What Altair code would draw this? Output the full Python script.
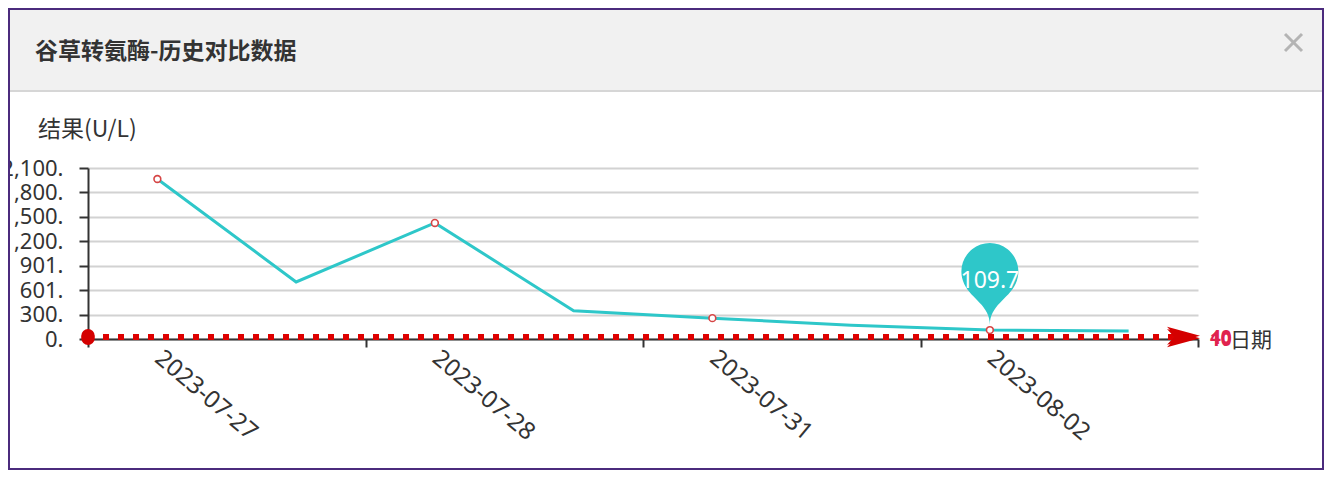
import altair as alt
import pandas as pd

# ---------------- data ----------------
dates = ["2023-07-27", "2023-07-27", "2023-07-28", "2023-07-29",
         "2023-07-31", "2023-08-01", "2023-08-02", "2023-08-03"]
results = [1965, 700, 1425, 348, 256, 168, 109.7, 98]
y_ticks = [0, 300, 601, 901, 1200, 1500, 1800, 2100]
y_tick_labels = ["0.", "300.", "601.", "901.", "1,200.", "1,500.", "1,800.", "2,100."]
ref_values = [40, 10]
ref_labels = ["40", "10"]
pin_index = 6
label_step = 2
title_text = "谷草转氨酶-历史对比数据"
y_name = "结果(U/L)"
x_name = "日期"

# ---------------- layout / style ----------------
W, H = 1110, 171
n = len(dates)
band = W / n
TEAL = "#2ec7c9"
RED = "#dd0000"
CJK = "Noto Sans CJK SC"
NUM = "Noto Sans"

df = pd.DataFrame({"idx": list(range(n)), "date": dates, "result": results})
df["pos"] = df["idx"] + 0.5
df["symbol"] = (df["idx"] % label_step) == 0
df_ref = pd.DataFrame({"value": ref_values, "label": ref_labels})
df_pin = df[df["idx"] == pin_index]
one = pd.DataFrame({"k": [0]})

xs = alt.Scale(domain=[0, n], nice=False, zero=False)
ys = alt.Scale(domain=[y_ticks[0], y_ticks[-1]], nice=False, zero=False)

tick_vals = list(range(0, n + 1, label_step))
x_expr = "".join(f"datum.value == {v} ? '{dates[v]}' : " for v in tick_vals if v < n) + "''"
y_expr = "".join(f"datum.value == {v} ? '{l}' : " for v, l in zip(y_ticks, y_tick_labels)) + "''"

x_axis = alt.Axis(values=tick_vals, labelExpr=x_expr, labelOffset=band / 2,
                  labelAngle=40, labelAlign="left", labelBaseline="middle",
                  labelPadding=8, labelFontSize=24, labelFont=NUM, labelColor="#333",
                  labelOverlap=False, labelFlush=False,
                  domainColor="#333", domainWidth=2, tickColor="#333", tickWidth=2,
                  tickSize=8, grid=False, title=None)
y_axis = alt.Axis(values=y_ticks, labelExpr=y_expr, labelPadding=16,
                  labelFontSize=22, labelFont=NUM, labelColor="#333",
                  labelOverlap=False, labelFlush=False,
                  domainColor="#333", domainWidth=2, tickColor="#333", tickWidth=2,
                  tickSize=9, grid=True, gridColor="#d2d2d2", gridWidth=2, title=None)


def X(field):
    return alt.X(field, scale=xs, axis=x_axis)


def Y(field):
    return alt.Y(field, scale=ys, axis=y_axis)


def XD(v):
    return alt.XDatum(v, type="quantitative", scale=xs, axis=x_axis)


def YD(v):
    return alt.YDatum(v, type="quantitative", scale=ys, axis=y_axis)


# ---------------- dialog frame ----------------
header = alt.Chart(one).mark_rect(fill="#f1f1f1").encode(
    x=alt.value(-78), x2=alt.value(1234), y=alt.value(-158), y2=alt.value(-78))
sep = alt.Chart(one).mark_rule(color="#d6d6d6", strokeWidth=2).encode(
    x=alt.value(-78), x2=alt.value(1234), y=alt.value(-77))
close1 = alt.Chart(one).mark_rule(color="#b4b4b4", strokeWidth=3).encode(
    x=alt.value(1197), y=alt.value(-134), x2=alt.value(1214), y2=alt.value(-117))
close2 = alt.Chart(one).mark_rule(color="#b4b4b4", strokeWidth=3).encode(
    x=alt.value(1214), y=alt.value(-134), x2=alt.value(1197), y2=alt.value(-117))
title = alt.Chart(one).mark_text(font=CJK, fontSize=23, fontWeight="bold", color="#333",
                                 align="left", baseline="middle").encode(
    x=alt.value(-53), y=alt.value(-116), text=alt.value(title_text))
yname = alt.Chart(one).mark_text(font=CJK, fontSize=23, color="#333",
                                 align="left", baseline="middle").encode(
    x=alt.value(-50), y=alt.value(-38), text=alt.value(y_name))
border = alt.Chart(one).mark_rect(fillOpacity=0, stroke="#4b2b7d", strokeWidth=2).encode(
    x=alt.value(-79), x2=alt.value(1235), y=alt.value(-159), y2=alt.value(301))

# ---------------- data layers ----------------
line = alt.Chart(df).mark_line(color=TEAL, strokeWidth=3).encode(
    x=X("pos:Q"), y=Y("result:Q"))
points = alt.Chart(df).transform_filter("datum.symbol").mark_point(
    shape="circle", filled=True, fill="white", stroke="#d64545", strokeWidth=1.6,
    size=46, opacity=1).encode(x=X("pos:Q"), y=Y("result:Q"))

ref_rule = alt.Chart(df_ref).mark_rule(color=RED, strokeWidth=3.5, strokeDash=[6, 9]).encode(
    x=XD(0), x2=alt.X2Datum(n), y=Y("value:Q"))
ref_start = alt.Chart(df_ref).mark_point(shape="circle", filled=True, color="#d40000",
                                         size=180, opacity=1).encode(
    x=XD(0), y=Y("value:Q"))
arrow_path = "M1,0 L-1,-0.55 L-0.5,0 L-1,0.55 Z"
ref_end = alt.Chart(df_ref).mark_point(shape=arrow_path, filled=True, color="#d40000",
                                       size=1089, opacity=1, xOffset=-14.5).encode(
    x=XD(n), y=Y("value:Q"))
ref_text = alt.Chart(df_ref).mark_text(font=NUM, fontSize=19, fontWeight="bold",
                                       color="#e0234e", align="left", baseline="middle",
                                       dx=12, dy=2).encode(
    x=XD(n), y=Y("value:Q"), text="label:N")
xname = alt.Chart(one).mark_text(font=CJK, fontSize=21, color="#333", align="left",
                                 baseline="middle", dx=32, dy=2).encode(
    x=XD(n), y=YD(0), text=alt.value(x_name))

pin_path = ("M-0.901,-1.444 A1,1 0 1,1 0.901,-1.444 "
            "C0.641,-0.903 0,-0.7 0,0 C0,-0.7 -0.641,-0.903 -0.901,-1.444 Z")
pin = alt.Chart(df_pin).mark_point(shape=pin_path, filled=True, color=TEAL, size=3249,
                                   opacity=1, yOffset=-5).encode(
    x=X("pos:Q"), y=Y("result:Q"))
pin_text = alt.Chart(df_pin).mark_text(font=NUM, fontSize=23, color="white",
                                       align="center", baseline="middle", dy=-49).encode(
    x=X("pos:Q"), y=Y("result:Q"),
    text=alt.Text("result:Q", format=".1f"))

chart = alt.layer(
    header, sep, close1, close2, title, yname,
    line, points, ref_rule, ref_start, ref_end, ref_text, xname,
    pin, pin_text, border
).properties(
    width=W, height=H,
    padding={"left": 80, "top": 160, "right": 126, "bottom": 131},
    autosize=alt.AutoSizeParams(type="none"),
).configure_view(stroke=None)

chart.save("out.html", embed_options={"renderer": "svg", "actions": False})
